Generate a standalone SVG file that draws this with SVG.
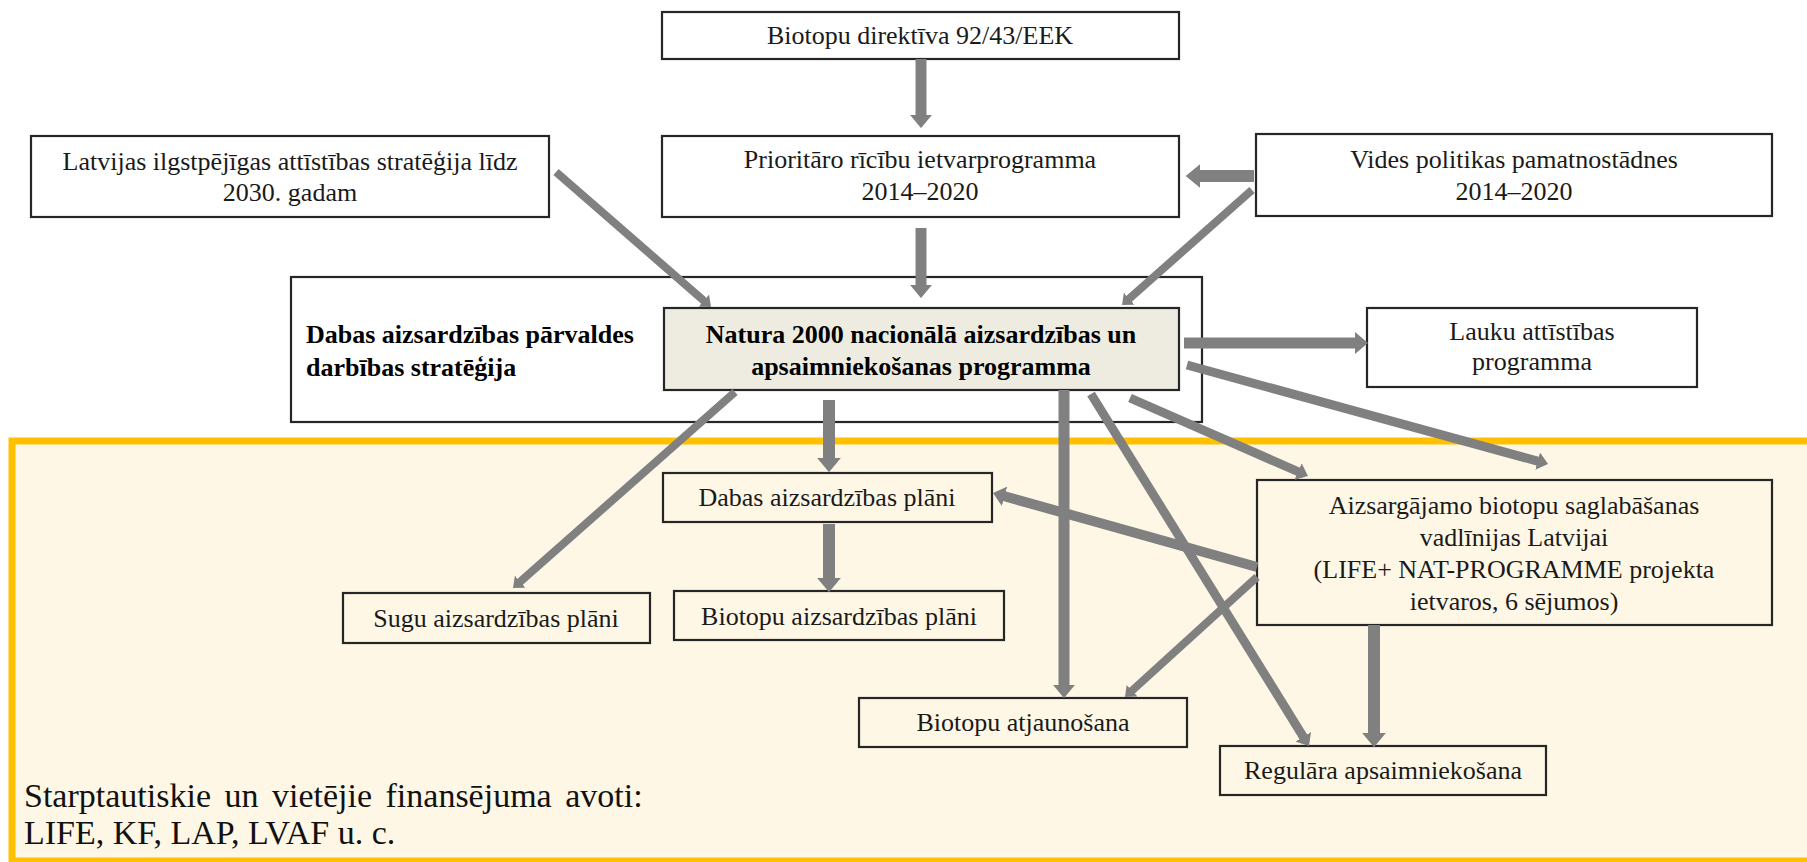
<svg xmlns="http://www.w3.org/2000/svg" width="1807" height="862" viewBox="0 0 1807 862">
<style>
.box{fill:#ffffff;stroke:#262626;stroke-width:2.2}
.boxc{fill:none;stroke:#262626;stroke-width:2.2}
.nat{fill:#eeece1;stroke:#262626;stroke-width:2.2}
.t{font-family:"Liberation Serif","Times New Roman",serif;font-size:26px;fill:#1a1a1a;text-anchor:middle}
.b{font-weight:bold;fill:#000}
.l{text-anchor:start}
.c{stroke:#808080;fill:none;marker-end:url(#ah)}
.big{font-family:"Liberation Serif","Times New Roman",serif;font-size:34px;fill:#111}
</style>
<defs>
<marker id="ah" viewBox="0 0 12 20" refX="1" refY="10" markerWidth="1.2" markerHeight="2" orient="auto" markerUnits="strokeWidth" preserveAspectRatio="none">
<path d="M0,0 L12,10 L0,20 z" fill="#808080"/>
</marker>
</defs>
<rect width="1807" height="862" fill="#ffffff"/>
<g id="funding">
<rect x="12" y="441" width="1810" height="420" fill="#fef7e6" stroke="#ffc000" stroke-width="7"/>
<text class="big" x="24" y="807" word-spacing="5">Starptautiskie un vietējie finansējuma avoti:</text>
<text class="big" x="24" y="844">LIFE, KF, LAP, LVAF u. c.</text>
</g>
<g id="dap-strategy">
<rect class="box" x="291" y="277" width="911" height="145"/>
<text class="t b l" x="306" y="343">Dabas aizsardzības pārvaldes</text>
<text class="t b l" x="306" y="376">darbības stratēģija</text>
</g>
<g id="biotopu-direktiva">
<rect class="box" x="662" y="12" width="517" height="47"/>
<text class="t" x="920" y="44">Biotopu direktīva 92/43/EEK</text>
</g>
<g id="prioritaro">
<rect class="box" x="662" y="136" width="517" height="81"/>
<text class="t" x="920" y="168">Prioritāro rīcību ietvarprogramma</text>
<text class="t" x="920" y="200">2014–2020</text>
</g>
<g id="latvijas">
<rect class="box" x="31" y="136" width="518" height="81"/>
<text class="t" x="290" y="170">Latvijas ilgstpējīgas attīstības stratēģija līdz</text>
<text class="t" x="290" y="201">2030. gadam</text>
</g>
<g id="vides">
<rect class="box" x="1256" y="134" width="516" height="82"/>
<text class="t" x="1514" y="168">Vides politikas pamatnostādnes</text>
<text class="t" x="1514" y="200">2014–2020</text>
</g>
<g id="natura">
<rect class="nat" x="664" y="308" width="515" height="82"/>
<text class="t b" x="921" y="343">Natura 2000 nacionālā aizsardzības un</text>
<text class="t b" x="921" y="375">apsaimniekošanas programma</text>
</g>
<g id="lauku">
<rect class="box" x="1367" y="308" width="330" height="79"/>
<text class="t" x="1532" y="340">Lauku attīstības</text>
<text class="t" x="1532" y="370">programma</text>
</g>
<g id="dabas-plani">
<rect class="boxc" x="663" y="473" width="329" height="49"/>
<text class="t" x="827" y="506">Dabas aizsardzības plāni</text>
</g>
<g id="biotopu-plani">
<rect class="boxc" x="674" y="591" width="330" height="49"/>
<text class="t" x="839" y="625">Biotopu aizsardzības plāni</text>
</g>
<g id="sugu-plani">
<rect class="boxc" x="343" y="593" width="307" height="50"/>
<text class="t" x="496" y="627">Sugu aizsardzības plāni</text>
</g>
<g id="aizsargajamo">
<rect class="boxc" x="1257" y="480" width="515" height="145"/>
<text class="t" x="1514" y="514">Aizsargājamo biotopu saglabāšanas</text>
<text class="t" x="1514" y="546">vadlīnijas Latvijai</text>
<text class="t" x="1514" y="578">(LIFE+ NAT-PROGRAMME projekta</text>
<text class="t" x="1514" y="610">ietvaros, 6 sējumos)</text>
</g>
<g id="biotopu-atjaunosana">
<rect class="boxc" x="859" y="698" width="328" height="49"/>
<text class="t" x="1023" y="731">Biotopu atjaunošana</text>
</g>
<g id="regulara">
<rect class="boxc" x="1220" y="746" width="326" height="49"/>
<text class="t" x="1383" y="779">Regulāra apsaimniekošana</text>
</g>
<g id="connectors">
<line class="c" stroke-width="11" x1="921" y1="59" x2="921" y2="116"/>
<line class="c" stroke-width="12" x1="1254" y1="176" x2="1199" y2="176"/>
<line class="c" stroke-width="11" x1="921" y1="228" x2="921" y2="286"/>
<line class="c" stroke-width="8" x1="556" y1="172" x2="704.4" y2="301.2"/>
<line class="c" stroke-width="8" x1="1252" y1="190" x2="1128.6" y2="299.2"/>
<line class="c" stroke-width="11" x1="1184" y1="343" x2="1356" y2="343"/>
<line class="c" stroke-width="9" x1="1187" y1="365" x2="1538.5" y2="461.4"/>
<line class="c" stroke-width="9" x1="1130" y1="398" x2="1298.9" y2="472"/>
<line class="c" stroke-width="9" x1="1091" y1="394" x2="1303.8" y2="737.6"/>
<line class="c" stroke-width="11" x1="1064" y1="390" x2="1064" y2="686"/>
<line class="c" stroke-width="12" x1="829" y1="400" x2="829" y2="459"/>
<line class="c" stroke-width="12" x1="829" y1="524" x2="829" y2="579"/>
<line class="c" stroke-width="8" x1="735" y1="392" x2="519.6" y2="582.2"/>
<line class="c" stroke-width="10" x1="1257" y1="567" x2="1003.6" y2="496"/>
<line class="c" stroke-width="8" x1="1257" y1="577" x2="1131.5" y2="691.1"/>
<line class="c" stroke-width="12" x1="1374" y1="625" x2="1374" y2="734"/>
</g>
</svg>
